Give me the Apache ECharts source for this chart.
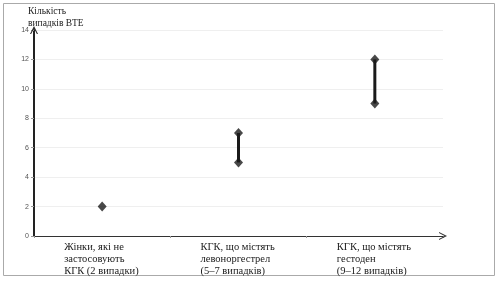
<!DOCTYPE html>
<html>
<head>
<meta charset="utf-8">
<script src="https://cdn.jsdelivr.net/npm/echarts@6/dist/echarts.min.js"></script>
<style>html,body{margin:0;padding:0;background:#fff}#c{width:500px;height:283px}</style>
</head>
<body>
<div id="c"></div>
<script>
var categories = ['Жінки, які не\nзастосовують\nКГК (2 випадки)', 'КГК, що містять\nлевоноргестрел\n(5–7 випадків)', 'КГК, що містять\nгестоден\n(9–12 випадків)'];
var lowValues = [2, 5, 9];
var highValues = [2, 7, 12];
var yTicks = [0, 2, 4, 6, 8, 10, 12, 14];

var chart = echarts.init(document.getElementById('c'), null, {renderer: 'canvas'});
var arrow = 'path://M0,10 L5,0 L10,10 L8.6,10 L5,3 L1.4,10 Z';
var pts = [];
categories.forEach(function (c, i) {
  pts.push([i, lowValues[i]]);
  if (highValues[i] !== lowValues[i]) pts.push([i, highValues[i]]);
});
chart.setOption({
  animation: false,
  title: {
    text: 'Кількість\nвипадків ВТЕ',
    left: 28, top: 5, padding: 0,
    textStyle: {fontFamily: 'Liberation Serif', fontSize: 9.5, fontWeight: 'normal', color: '#222', lineHeight: 12}
  },
  graphic: [{
    type: 'rect', shape: {x: 3.5, y: 3.5, width: 491, height: 272},
    style: {fill: 'none', stroke: '#aaa', lineWidth: 1}, silent: true
  }],
  grid: {left: 34, right: 57, top: 30, bottom: 47},
  xAxis: {
    type: 'category',
    data: categories,
    axisLine: {show: true, symbol: ['none', arrow], symbolSize: [8, 8], lineStyle: {color: '#333', width: 1.2}},
    axisTick: {show: true, length: 2, lineStyle: {color: '#999'}},
    axisLabel: {
      margin: 5, interval: 0,
      formatter: function (v) { return '{a|' + v.split('\n').join('}\n{a|') + '}'; },
      rich: {a: {width: 76, align: 'left', fontFamily: 'Liberation Serif', fontSize: 10.5, lineHeight: 12, color: '#1a1a1a'}}
    },
    splitLine: {show: false}
  },
  yAxis: {
    type: 'value', min: 0, max: 14, interval: 2,
    axisLine: {show: true, symbol: ['none', arrow], symbolSize: [8, 9], lineStyle: {color: '#222', width: 2}},
    axisTick: {show: true, length: 3, lineStyle: {color: '#999'}},
    axisLabel: {
      margin: 5, fontSize: 7, color: '#555', fontFamily: 'Liberation Sans',
      formatter: function (v) { return yTicks.indexOf(v) >= 0 ? String(v) : ''; }
    },
    splitLine: {show: true, lineStyle: {color: '#efefef', width: 1}}
  },
  series: [{
    type: 'custom',
    renderItem: function (params, api) {
      var i = api.value(0);
      if (api.value(1) === api.value(2)) return null;
      var p1 = api.coord([i, api.value(1)]);
      var p2 = api.coord([i, api.value(2)]);
      return {type: 'line', shape: {x1: p1[0], y1: p1[1], x2: p2[0], y2: p2[1]}, style: {stroke: '#1a1a1a', lineWidth: 3}};
    },
    data: categories.map(function (c, i) { return [i, lowValues[i], highValues[i]]; }),
    z: 2
  }, {
    type: 'scatter',
    symbol: 'diamond',
    symbolSize: [9, 10],
    itemStyle: {color: '#1a1a1a'},
    data: pts,
    z: 3
  }]
});
</script>
</body>
</html>
